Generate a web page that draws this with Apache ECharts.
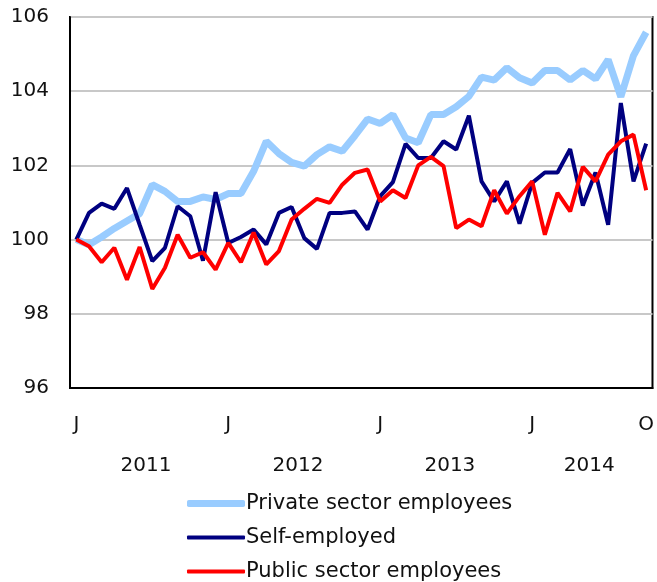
<!DOCTYPE html>
<html>
<head>
<meta charset="utf-8">
<script src="https://cdn.jsdelivr.net/npm/echarts@6/dist/echarts.min.js"></script>
<style>
  html, body { margin: 0; padding: 0; background: #fff; }
  #main { width: 657px; height: 582px; }
</style>
</head>
<body>
<div id="main"></div>
<script>
// months Jan 2011 .. Oct 2014
var months = [];
var monthLetters = ['J','F','M','A','M','J','J','A','S','O','N','D'];
var years = [2011, 2012, 2013, 2014];
years.forEach(function (y) {
    for (var m = 0; m < 12; m++) {
        if (y === 2014 && m > 9) break;
        months.push(monthLetters[m] + ' ' + y);
    }
});
// year labels sit at the middle of each year's months (in category units)
var yearCenters = [6, 18, 30, 41];

var privateSector = [100.0, 99.86, 100.07, 100.3, 100.5, 100.7, 101.48, 101.3, 101.03, 101.03,
    101.15, 101.08, 101.24, 101.24, 101.84, 102.65, 102.32, 102.08, 101.98, 102.29,
    102.5, 102.38, 102.8, 103.25, 103.13, 103.37, 102.74, 102.61, 103.37, 103.37,
    103.58, 103.86, 104.38, 104.3, 104.63, 104.36, 104.22, 104.56, 104.56, 104.3,
    104.56, 104.33, 104.85, 103.85, 104.96, 105.59];
var selfEmployed = [100.0, 100.72, 100.97, 100.83, 101.39, 100.4, 99.42, 99.78, 100.9, 100.63,
    99.43, 101.28, 99.91, 100.07, 100.27, 99.87, 100.72, 100.88, 100.04, 99.75,
    100.72, 100.72, 100.76, 100.27, 101.17, 101.55, 102.58, 102.2, 102.2, 102.65,
    102.43, 103.34, 101.57, 101.03, 101.57, 100.43, 101.53, 101.81, 101.81, 102.44,
    100.92, 101.81, 100.4, 103.68, 101.57, 102.59];
var publicSector = [100.0, 99.82, 99.39, 99.78, 98.92, 99.8, 98.67, 99.24, 100.13, 99.51,
    99.66, 99.19, 99.91, 99.39, 100.19, 99.33, 99.69, 100.54, 100.83, 101.1,
    100.99, 101.48, 101.8, 101.89, 101.03, 101.33, 101.12, 102.0, 102.23, 101.98,
    100.31, 100.54, 100.36, 101.33, 100.7, 101.17, 101.57, 100.13, 101.26, 100.76,
    101.96, 101.57, 102.29, 102.65, 102.83, 101.33];

var names = ['Private sector employees', 'Self-employed', 'Public sector employees'];
var colors = ['#99ccff', '#000080', '#ff0000'];

var font = 'DejaVu Sans';
var chart = echarts.init(document.getElementById('main'));

// one legend per entry so each key line can have its own thickness
function legendFor(i, top, h) {
    return {
        data: [names[i]],
        left: 182, top: top,
        icon: 'roundRect',
        itemWidth: 58, itemHeight: h,
        itemGap: 0,
        itemStyle: { color: colors[i], borderWidth: 0 },
        textStyle: { fontFamily: font, fontSize: 21, color: '#111', padding: [0, 0, 0, -4] },
        selectedMode: false
    };
}

chart.setOption({
    animation: false,
    textStyle: { fontFamily: font },
    grid: {
        left: 70, top: 17, right: 2, bottom: 194,
        show: true, borderColor: '#000', borderWidth: 2
    },
    legend: [
        legendFor(0, 488, 7),
        legendFor(1, 522, 4),
        legendFor(2, 556, 4)
    ],
    xAxis: [{
        type: 'category',
        data: months,
        boundaryGap: true,
        axisLine: { lineStyle: { color: '#000', width: 2 } },
        axisTick: { inside: true, length: 5, interval: 0, lineStyle: { color: '#000', width: 1.5 } },
        axisLabel: {
            interval: 0, margin: 27, fontSize: 20, color: '#111',
            formatter: function (v, i) {
                if (i % 12 === 0) return 'J';
                if (i === months.length - 1) return 'O';
                return '';
            }
        },
        splitLine: { show: false }
    }, {
        type: 'value',
        position: 'bottom',
        min: 0, max: months.length, interval: 1,
        axisLine: { show: false },
        axisTick: { show: false },
        splitLine: { show: false },
        axisLabel: {
            margin: 68, fontSize: 20, color: '#111',
            formatter: function (v) {
                var k = yearCenters.indexOf(v);
                return k >= 0 ? String(years[k]) : '';
            }
        }
    }],
    yAxis: {
        type: 'value',
        min: 96, max: 106, interval: 2,
        axisLine: { show: true, lineStyle: { color: '#000', width: 2 } },
        axisTick: { show: false },
        axisLabel: { fontSize: 20, color: '#111', margin: 21 },
        splitLine: { lineStyle: { color: '#c8c8c8', width: 2 } }
    },
    series: [{
        name: names[0],
        type: 'line',
        data: privateSector,
        symbol: 'none',
        lineStyle: { color: colors[0], width: 7 },
        itemStyle: { color: colors[0] },
        z: 1
    }, {
        name: names[1],
        type: 'line',
        data: selfEmployed,
        symbol: 'none',
        lineStyle: { color: colors[1], width: 4 },
        itemStyle: { color: colors[1] },
        z: 2
    }, {
        name: names[2],
        type: 'line',
        data: publicSector,
        symbol: 'none',
        lineStyle: { color: colors[2], width: 4 },
        itemStyle: { color: colors[2] },
        z: 3
    }]
});
</script>
</body>
</html>
